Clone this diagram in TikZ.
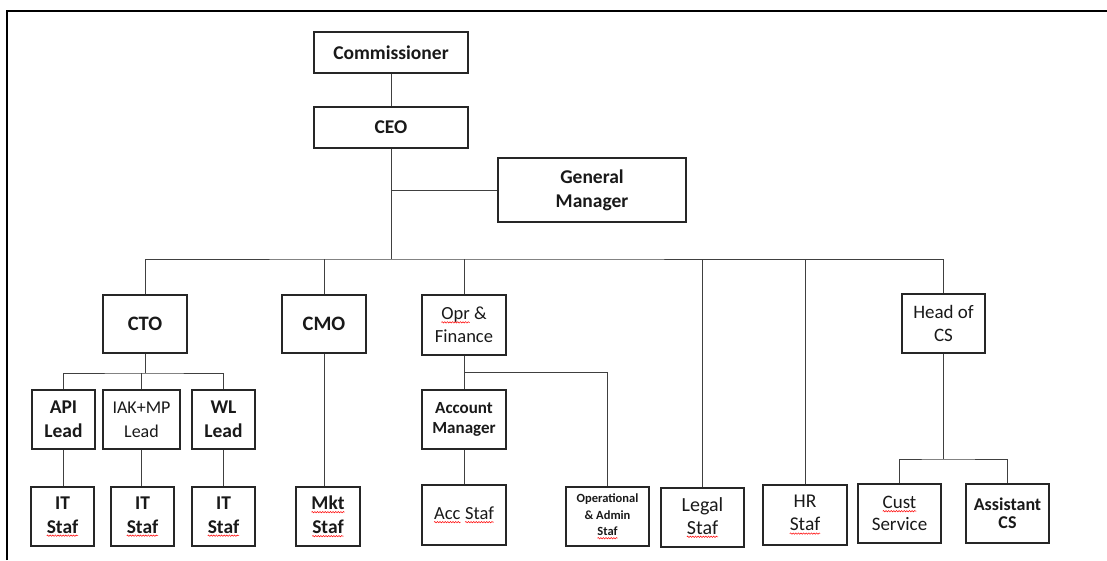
\documentclass[tikz,border=0pt]{standalone}
\usepackage{fontspec}
\setmainfont{Carlito}
\usetikzlibrary{decorations.pathmorphing}
% red spell-check wave under a word
\newcommand\spell[1]{\tikz[baseline=(w.base), x=1cm, y=1cm]{%
    \node[draw=none, inner sep=0pt, outer sep=0pt, minimum width=0pt, minimum height=0pt] (w) {#1};
    \draw[red, line width=0.5pt, decorate, decoration={snake, amplitude=0.7pt, segment length=2.6pt}]
        ([yshift=-2.6pt]w.base west) -- ([yshift=-2.6pt]w.base east);}}
\begin{document}
\begin{tikzpicture}[
        x=1pt, y=-1pt,
        box/.style={draw=black!85, line width=1.4pt, align=center, inner sep=1pt,
            font=\fontsize{19.5}{24}\selectfont, text=black!90},
        bold/.style={font=\fontsize{19.5}{24}\selectfont\bfseries},
        line/.style={draw=black!75, line width=1pt}
    ]
    \useasboundingbox (0,0) rectangle (1107,560);
    % Frame
    \draw[line width=2pt] (7,560) -- (7,11) -- (1107,11);
    % Nodes
    \node[box, bold, minimum width=154, minimum height=41] (comm) at (391,52.5) {Commissioner};
    \node[box, bold, minimum width=154, minimum height=41] (ceo) at (391,127.5) {CEO};
    \node[box, bold, minimum width=188, minimum height=64] (gm) at (592,190) {General\\Manager};
    \node[box, bold, minimum width=84, minimum height=58, font=\fontsize{20.5}{24}\selectfont\bfseries] (cto) at (145,324) {CTO};
    \node[box, bold, minimum width=84, minimum height=58, font=\fontsize{20.5}{24}\selectfont\bfseries] (cmo) at (324,324) {CMO};
    \node[box, minimum width=84, minimum height=60, font=\fontsize{18.5}{23}\selectfont] (opr) at (464,325) {\spell{Opr} \&\\Finance};
    \node[box, minimum width=83, minimum height=59, font=\fontsize{19}{23}\selectfont] (hcs) at (943.5,323.5) {Head of\\CS};
    \node[box, bold, minimum width=63, minimum height=59] (api) at (63.5,419.5) {API\\Lead};
    \node[box, minimum width=77, minimum height=59, font=\fontsize{18}{24}\selectfont] (iak) at (141.5,419.5) {IAK+MP\\Lead};
    \node[box, bold, minimum width=63, minimum height=59] (wl) at (223.5,419.5) {WL\\Lead};
    \node[box, bold, minimum width=63, minimum height=59] (it1) at (62.5,516.5) {IT\\\spell{Staf}};
    \node[box, bold, minimum width=63, minimum height=59] (it2) at (142.5,516.5) {IT\\\spell{Staf}};
    \node[box, bold, minimum width=63, minimum height=59] (it3) at (223.5,516.5) {IT\\\spell{Staf}};
    \node[box, bold, minimum width=64, minimum height=59] (mkt) at (328,516.5) {\spell{Mkt}\\\spell{Staf}};
    \node[box, minimum width=84, minimum height=59, font=\fontsize{17}{20}\selectfont\bfseries] (accmgr) at (464,419.5) {Account\\Manager};
    \node[box, minimum width=84, minimum height=60, font=\fontsize{18.5}{22}\selectfont] (accstaf) at (464,515) {\spell{Acc} \spell{Staf}};
    \node[box, minimum width=83, minimum height=59, font=\fontsize{12.5}{16.5}\selectfont\bfseries] (opadm) at (607.5,516.5) {Operational\\\& Admin\\\spell{Staf}};
    \node[box, minimum width=83, minimum height=59, font=\fontsize{20}{23}\selectfont] (legal) at (702.5,517.5) {Legal\\\spell{Staf}};
    \node[box, minimum width=84, minimum height=60, font=\fontsize{19.5}{23}\selectfont] (hr) at (805,515) {HR\\\spell{Staf}};
    \node[box, minimum width=83, minimum height=59, font=\fontsize{19}{22}\selectfont] (cust) at (899.5,513.5) {\spell{Cust}\\Service};
    \node[box, minimum width=83, minimum height=59, font=\fontsize{18}{18}\selectfont\bfseries] (asst) at (1007.5,513.5) {Assistant\\CS};
    % Junctions
    \coordinate (bus) at (391,259);
    \coordinate (ctobus) at (145,373);
    \coordinate (oprbus) at (464,372);
    \coordinate (csbus) at (943.5,459);
    % Edges
    \draw[line] (comm) -- (ceo);
    \draw[line] (ceo) -- (bus);
    \draw[line] (ceo.south |- gm.west) -- (gm.west);
    \draw[line] (cto.north) |- (bus) -| (hcs.north);
    \draw[line] (cmo.north) -- (cmo.north |- bus);
    \draw[line] (opr.north) -- (opr.north |- bus);
    \draw[line] (legal.north) -- (legal.north |- bus);
    \draw[line] (hr.north) -- (hr.north |- bus);
    \draw[line] (cto) -- (ctobus);
    \draw[line] (api.north) |- (ctobus) -| (wl.north);
    \draw[line] (iak.north) -- (iak.north |- ctobus);
    \draw[line] (api.south) -- (api.south |- it1.north);
    \draw[line] (iak.south) -- (iak.south |- it2.north);
    \draw[line] (wl.south) -- (wl.south |- it3.north);
    \draw[line] (cmo.south) -- (cmo.south |- mkt.north);
    \draw[line] (opr) -- (accmgr);
    \draw[line] (oprbus) -| (opadm.north);
    \draw[line] (accmgr) -- (accstaf);
    \draw[line] (hcs) -- (csbus);
    \draw[line] (cust.north) |- (csbus) -| (asst.north);
\end{tikzpicture}
\end{document}
